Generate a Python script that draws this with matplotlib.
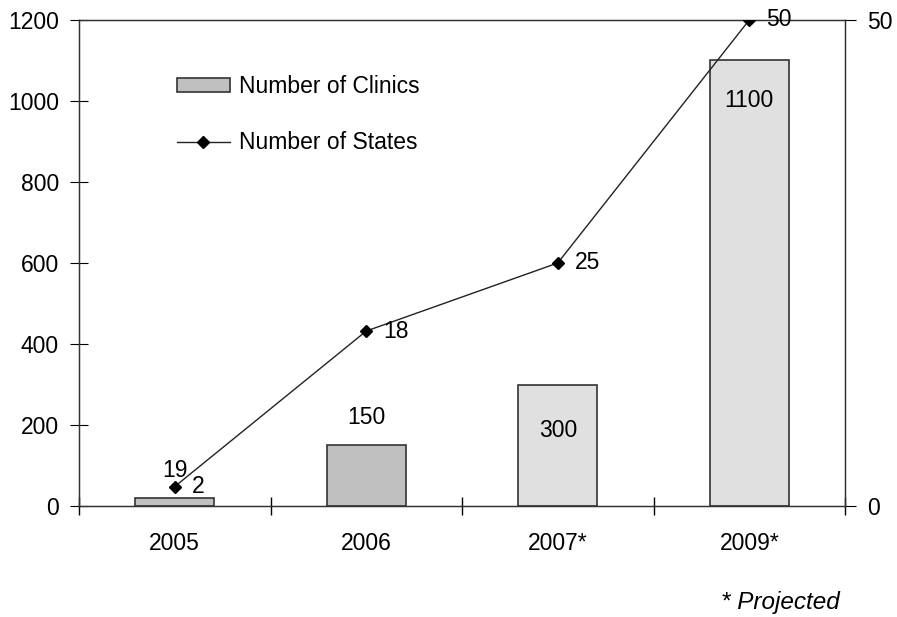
import matplotlib.pyplot as plt
import numpy as np

plt.rcParams['font.family'] = ['Liberation Sans', 'DejaVu Sans']

years = ['2005', '2006', '2007*', '2009*']
clinics = [19, 150, 300, 1100]
states = [2, 18, 25, 50]
bar_colors = ['#c0c0c0', '#c0c0c0', '#e0e0e0', '#e0e0e0']
# vertical offset (points) of each bar label from the bar top
label_offsets = [20, 20, -33, -29]

FS = 16.5

fig = plt.figure(figsize=(8.97, 6.17), dpi=100)
ax = fig.add_axes([79 / 897, 1 - 506 / 617, (845 - 79) / 897, (506 - 20) / 617])
x = np.arange(len(years))

bars = ax.bar(x, clinics, width=0.41, color=bar_colors, edgecolor='#333333',
              linewidth=1.2, label='Number of Clinics', zorder=2)
ax.set_xlim(-0.5, len(years) - 0.5)
ax.set_ylim(0, 1200)
ax.set_yticks(range(0, 1201, 200))
ax.set_xticks(x)
ax.set_xticklabels(years)
ax.set_xticks(np.arange(-0.5, len(years), 1), minor=True)
ax.tick_params(axis='x', which='major', length=0, pad=19, labelsize=FS)
ax.tick_params(axis='x', which='minor', length=13, direction='inout', width=1)
ax.tick_params(axis='y', length=13, direction='inout', labelsize=FS, pad=8)
for s in ax.spines.values():
    s.set_color('#333333')
    s.set_linewidth(1)

ax2 = ax.twinx()
ax2.set_ylim(0, 50)
ax2.set_yticks([0, 50])
ax2.tick_params(axis='y', length=8, direction='out', labelsize=FS, pad=8)
line, = ax2.plot(x, states, color='#222222', linewidth=1, marker='D', markersize=6.5,
                 markerfacecolor='black', markeredgecolor='black', label='Number of States', zorder=3)
for s in ax2.spines.values():
    s.set_color('#333333')

# bar labels
for xi, v, off in zip(x, clinics, label_offsets):
    ax.annotate(str(v), (xi, v), xytext=(0, off), textcoords='offset points',
                ha='center', va='center', fontsize=FS)

# line labels
for xi, v in zip(x, states):
    ax2.annotate(str(v), (xi, v), xytext=(12, 0), textcoords='offset points',
                 ha='left', va='center', fontsize=FS)

ax.legend([bars, line], ['Number of Clinics', 'Number of States'], loc='upper left',
          bbox_to_anchor=(177 / 897, 1 - 75 / 617), bbox_transform=fig.transFigure,
          frameon=False, fontsize=FS, labelspacing=1.45, borderpad=0, borderaxespad=0,
          handlelength=2.3, handleheight=0.55, handletextpad=0.4)

fig.text(840 / 897, 1 - 603 / 617, '* Projected', ha='right', va='center',
         fontsize=17.5, style='italic')

fig.savefig('out.png', dpi=100)
